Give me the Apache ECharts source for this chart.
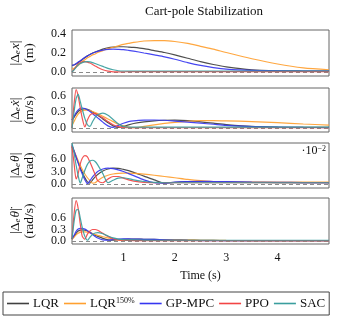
<!DOCTYPE html>
<html><head><meta charset="utf-8">
<script src="https://cdn.jsdelivr.net/npm/echarts@6/dist/echarts.min.js"></script>
<style>html,body{margin:0;padding:0;background:#fff}#c{width:344px;height:317px}</style>
</head><body><div id="c"></div>
<script>
// time samples (s)
const T = [0,0.04,0.08,0.12,0.16,0.2,0.25,0.3,0.35,0.4,0.45,0.5,0.6,0.7,0.8,0.9,1.0,1.1,1.2,1.4,1.6,1.8,2.0,2.25,2.5,2.75,3.0,3.5,4.0,4.5,5.0];
const seriesNames = ['LQR','LQR150','GP-MPC','PPO','SAC'];
// panel 1: |Δe x| (m)
const xLQR    = [0.07,0.075,0.085,0.10,0.115,0.13,0.15,0.17,0.185,0.20,0.21,0.22,0.24,0.255,0.262,0.265,0.265,0.262,0.258,0.245,0.225,0.205,0.18,0.145,0.11,0.08,0.055,0.025,0.015,0.012,0.01];
const xLQR150 = [0.03,0.04,0.055,0.07,0.09,0.11,0.13,0.15,0.165,0.18,0.19,0.205,0.225,0.245,0.26,0.275,0.29,0.30,0.31,0.325,0.33,0.33,0.32,0.30,0.27,0.24,0.205,0.14,0.085,0.045,0.025];
const xGP     = [0.07,0.078,0.09,0.105,0.12,0.135,0.155,0.17,0.185,0.198,0.208,0.217,0.23,0.238,0.24,0.238,0.235,0.228,0.22,0.2,0.18,0.16,0.135,0.1,0.07,0.048,0.032,0.018,0.013,0.01,0.01];
const xPPO    = [0,0.03,0.06,0.085,0.1,0.108,0.11,0.105,0.095,0.08,0.065,0.05,0.025,0.01,0.004,0.003,0.004,0.005,0.005,0.005,0.005,0.005,0.005,0.005,0.005,0.005,0.005,0.005,0.005,0.005,0.005];
const xSAC    = [0,0.025,0.05,0.075,0.09,0.1,0.108,0.11,0.108,0.1,0.09,0.08,0.06,0.04,0.025,0.015,0.012,0.012,0.012,0.012,0.012,0.012,0.012,0.012,0.012,0.012,0.012,0.012,0.012,0.012,0.012];
// panel 2: |Δe ẋ| (m/s)
const vLQR    = [0.15,0.2,0.26,0.31,0.34,0.355,0.36,0.35,0.33,0.3,0.27,0.24,0.17,0.1,0.04,0.01,0.03,0.06,0.085,0.115,0.135,0.145,0.148,0.14,0.115,0.09,0.065,0.03,0.018,0.012,0.01];
const vLQR150 = [0.05,0.12,0.2,0.26,0.3,0.325,0.335,0.335,0.325,0.31,0.29,0.27,0.22,0.17,0.12,0.07,0.04,0.015,0.005,0.03,0.06,0.085,0.105,0.125,0.14,0.14,0.135,0.12,0.1,0.075,0.055];
const vGP     = [0.15,0.22,0.29,0.34,0.37,0.375,0.365,0.34,0.31,0.27,0.23,0.19,0.11,0.04,0.01,0.05,0.09,0.12,0.135,0.148,0.15,0.145,0.13,0.11,0.09,0.07,0.05,0.025,0.015,0.01,0.008];
const vPPO    = [0,0.45,0.72,0.6,0.38,0.18,0.02,0.15,0.24,0.27,0.27,0.25,0.19,0.12,0.06,0.025,0.01,0.005,0.005,0.005,0.005,0.005,0.005,0.005,0.005,0.005,0.005,0.005,0.005,0.005,0.005];
const vSAC    = [0,0.3,0.55,0.63,0.5,0.35,0.18,0.06,0.03,0.12,0.2,0.25,0.28,0.24,0.16,0.08,0.03,0.015,0.015,0.015,0.015,0.015,0.015,0.015,0.015,0.015,0.015,0.015,0.015,0.015,0.015];
// panel 3: |Δe θ| (rad, ×10^-2)
const tLQR    = [9.0,7.8,6.5,5.2,3.9,2.8,1.5,0.5,0.2,1.0,1.7,2.3,3.1,3.6,3.8,3.75,3.5,3.2,2.8,1.9,1.0,0.2,0.4,0.55,0.6,0.55,0.5,0.4,0.35,0.3,0.3];
const tLQR150 = [9.2,8.0,6.8,5.6,4.5,3.5,2.4,1.5,0.8,0.2,0.3,0.8,1.6,2.1,2.4,2.55,2.6,2.6,2.55,2.35,2.1,1.8,1.5,1.1,0.8,0.6,0.5,0.45,0.45,0.45,0.45];
const tGP     = [9.3,8.0,6.5,5.0,3.6,2.4,1.0,0.1,0.8,1.7,2.4,3.0,3.6,3.8,3.7,3.4,3.0,2.5,2.0,1.0,0.3,0.2,0.45,0.6,0.65,0.6,0.55,0.45,0.4,0.35,0.35];
const tPPO    = [9.0,5.0,1.2,2.5,4.8,6.2,6.8,6.5,5.2,3.8,2.3,0.8,0.3,1.2,1.8,1.8,1.4,1.0,0.7,0.4,0.3,0.3,0.3,0.3,0.3,0.3,0.3,0.3,0.3,0.3,0.3];
const tSAC    = [9.8,7.5,4.5,2.0,0.2,1.5,3.3,4.7,5.5,5.7,5.4,4.6,2.5,0.3,0.9,1.4,1.5,1.3,1.0,0.6,0.4,0.3,0.3,0.3,0.3,0.3,0.3,0.3,0.3,0.3,0.3];
// panel 4: |Δe θ̇| (rad/s)
const dLQR    = [0.05,0.12,0.2,0.26,0.285,0.29,0.28,0.26,0.23,0.19,0.15,0.12,0.07,0.03,0.02,0.035,0.045,0.05,0.05,0.045,0.04,0.035,0.03,0.025,0.02,0.015,0.012,0.01,0.01,0.01,0.01];
const dLQR150 = [0.04,0.1,0.16,0.2,0.23,0.24,0.24,0.23,0.21,0.19,0.17,0.15,0.11,0.08,0.05,0.03,0.02,0.015,0.02,0.03,0.03,0.028,0.025,0.022,0.02,0.018,0.015,0.012,0.01,0.01,0.01];
const dGP     = [0.05,0.15,0.25,0.31,0.33,0.33,0.31,0.27,0.22,0.17,0.12,0.08,0.03,0.02,0.04,0.05,0.055,0.055,0.05,0.045,0.04,0.03,0.02,0.015,0.012,0.01,0.01,0.01,0.01,0.01,0.01];
const dPPO    = [0.05,0.7,1.05,0.85,0.45,0.12,0.05,0.18,0.26,0.3,0.3,0.28,0.2,0.12,0.06,0.03,0.02,0.015,0.01,0.01,0.01,0.01,0.01,0.01,0.01,0.01,0.01,0.01,0.01,0.01,0.01];
const dSAC    = [0.05,0.5,0.8,0.82,0.6,0.35,0.12,0.02,0.1,0.17,0.21,0.22,0.19,0.13,0.08,0.05,0.035,0.03,0.03,0.025,0.02,0.02,0.02,0.02,0.02,0.02,0.02,0.02,0.02,0.02,0.02];
// axis ticks
const xTicks = [1,2,3,4];
const yTicks = [[0,0.2,0.4],[0,0.3,0.6],[0,3,6],[0,0.3,0.6]];

const panels = [
  [xLQR,xLQR150,xGP,xPPO,xSAC],
  [vLQR,vLQR150,vGP,vPPO,vSAC],
  [tLQR,tLQR150,tGP,tPPO,tSAC],
  [dLQR,dLQR150,dGP,dPPO,dSAC]
];
const colors = ['#404040','#ffa030','#3636f0','#f24545','#3a9e9e'];
const FONT = 'Liberation Serif';
const ranges = [[-0.04,0.44],[-0.075,0.75],[-0.96,9.84],[-0.078,1.12]];
const grids = [
  {left:69, width:260, top:30, height:46},
  {left:69, width:260, top:88, height:44},
  {left:69, width:260, top:143, height:45},
  {left:69, width:260, top:198, height:46}
];
const richName = {
  n:{fontFamily:FONT,fontSize:13.5,color:'#111'},
  i:{fontFamily:FONT,fontSize:13.5,fontStyle:'italic',color:'#111'},
  s:{fontFamily:FONT,fontSize:9,fontStyle:'italic',color:'#111',verticalAlign:'bottom',padding:[0,1,0,0]}
};
const yNames = [
  '{n||Δ}{s|e}{i|x}{n||}\n{n|(m)}',
  '{n||Δ}{s|e}{i|ẋ}{n||}\n{n|(m/s)}',
  '{n||Δ}{s|e}{i|θ}{n||}\n{n|(rad)}',
  '{n||Δ}{s|e}{i|θ̇}{n||}\n{n|(rad/s)}'
];

const xAxes = [], yAxes = [], series = [];
const labelBase = {hideOverlap:false, fontFamily:FONT, fontSize:12, color:'#111', margin:6, formatter:v=>v.toFixed(1)};
for (let g = 0; g < 4; g++) {
  const last = g === 3;
  xAxes.push({
    type:'value', gridIndex:g, min:0, max:5,
    axisLine:{show:false}, axisTick:{show:false}, splitLine:{show:false},
    axisLabel: last ? {show:true, customValues:xTicks, fontFamily:FONT, fontSize:12, color:'#111', margin:8, formatter:v=>String(v)} : {show:false},
    name: last ? 'Time (s)' : '', nameLocation:'middle', nameGap:26,
    nameTextStyle:{fontFamily:FONT, fontSize:12, color:'#111'}
  });
  const mainIdx = yAxes.length;
  yAxes.push({
    type:'value', gridIndex:g, min:ranges[g][0], max:ranges[g][1],
    axisLine:{show:false}, axisTick:{show:false}, splitLine:{show:false},
    axisLabel:Object.assign({customValues:yTicks[g].filter((v,i)=>i%2===0)}, labelBase),
    name:yNames[g], nameLocation:'middle', nameRotate:90, nameGap:36,
    nameTextStyle:{rich:richName, lineHeight:14, align:'center'}
  });
  yAxes.push({
    type:'value', gridIndex:g, min:ranges[g][0], max:ranges[g][1], position:'left',
    axisLine:{show:false}, axisTick:{show:false}, splitLine:{show:false},
    axisLabel:Object.assign({customValues:yTicks[g].filter((v,i)=>i%2===1)}, labelBase)
  });
  panels[g].forEach((arr, k) => {
    const s = {
      type:'line', name:seriesNames[k], xAxisIndex:g, yAxisIndex:mainIdx,
      data:T.map((t,i)=>[t,arr[i]]), symbol:'none', smooth:0.25,
      lineStyle:{width:1.2, color:colors[k], opacity:0.92}, itemStyle:{color:colors[k]},
      z:2+k, animation:false
    };
    if (k === 0) {
      s.markLine = {silent:true, symbol:['none','none'], label:{show:false},
        lineStyle:{type:[4,3], color:'#8a8a8a', width:1}, data:[{yAxis:0}], animation:false};
    }
    series.push(s);
  });
}

const chart = echarts.init(document.getElementById('c'), null, {renderer:'canvas'});
chart.setOption({
  animation:false,
  backgroundColor:'#fff',
  title:{text:'Cart-pole Stabilization', left:199, top:0, textAlign:'center',
    textStyle:{fontFamily:FONT, fontSize:13, fontWeight:'normal', color:'#111'}},
  grid: grids.map(g=>Object.assign({show:true, borderColor:'#666', borderWidth:1, backgroundColor:'transparent'}, g)),
  xAxis:xAxes, yAxis:yAxes, series:series,
  legend:{
    data:seriesNames, left:3, top:292, width:338, orient:'horizontal',
    icon:'rect', itemWidth:22, itemHeight:1.6, itemGap:5, padding:[5,4,5,4],
    borderColor:'#444', borderWidth:1, borderRadius:0,
    textStyle:{fontFamily:FONT, fontSize:13, color:'#111', padding:[0,0,0,-1],
      rich:{n:{fontFamily:FONT,fontSize:13,color:'#111'}, s:{fontFamily:FONT,fontSize:8,color:'#111',verticalAlign:'top'}}},
    formatter: n => n === 'LQR150' ? '{n|LQR}{s|150%}' : n
  },
  graphic:[{type:'text', right:18, top:145, style:{rich:{a:{fontFamily:FONT,fontSize:12,fill:'#111'}, b:{fontFamily:FONT,fontSize:8,fill:'#111',verticalAlign:'top'}}, text:'{a|·10}{b|−2}', fill:'#111'}}]
});
</script></body></html>
